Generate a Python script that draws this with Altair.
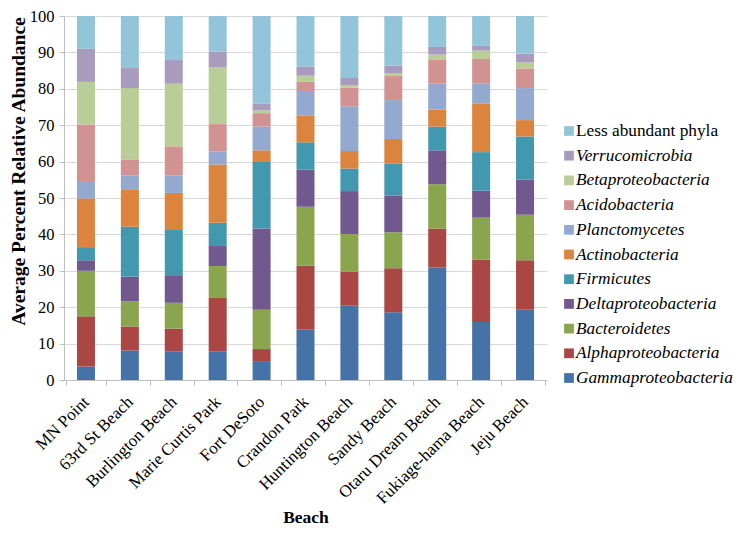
import altair as alt
import pandas as pd

beaches = ["MN Point", "63rd St Beach", "Burlington Beach", "Marie Curtis Park",
           "Fort DeSoto", "Crandon Park", "Huntington Beach", "Sandy Beach",
           "Otaru Dream Beach", "Fukiage-hama Beach", "Jeju Beach"]

# stacking order from bottom to top
phyla = ["Gammaproteobacteria", "Alphaproteobacteria", "Bacteroidetes",
         "Deltaproteobacteria", "Firmicutes", "Actinobacteria", "Planctomycetes",
         "Acidobacteria", "Betaproteobacteria", "Verrucomicrobia", "Less abundant phyla"]

colors = ["#4572A7", "#AA4643", "#89A54E", "#71588F", "#4198AF", "#DB843D",
          "#93A9CF", "#D19392", "#B9CD96", "#A99BBD", "#92C5DA"]

gamma = [3.7, 8.1, 7.9, 7.9, 5.2, 13.9, 20.4, 18.6, 30.9, 15.9, 19.3]
alpha = [13.8, 6.6, 6.2, 14.6, 3.3, 17.5, 9.3, 12.1, 10.7, 17.2, 13.6]
bacteroidetes = [12.5, 6.9, 7.1, 8.8, 10.8, 16.2, 10.4, 9.9, 12.2, 11.5, 12.5]
delta = [2.9, 6.8, 7.6, 5.5, 22.3, 10.2, 11.8, 10.1, 9.3, 7.4, 9.7]
firmicutes = [3.6, 13.7, 12.4, 6.4, 18.3, 7.5, 6.2, 8.7, 6.5, 10.6, 11.8]
actino = [13.4, 10.3, 10.2, 16.0, 3.2, 7.4, 4.8, 6.8, 4.7, 13.4, 4.5]
plancto = [4.8, 3.8, 4.8, 3.6, 6.5, 6.7, 12.3, 10.7, 7.1, 5.4, 8.8]
acido = [15.5, 4.4, 8.0, 7.5, 3.7, 2.5, 5.1, 6.6, 6.5, 6.8, 5.4]
beta = [11.7, 19.6, 17.2, 15.6, 0.8, 1.7, 0.7, 0.8, 1.5, 2.3, 1.7]
verruco = [9.1, 5.5, 6.5, 4.3, 1.9, 2.5, 2.0, 2.1, 2.1, 1.3, 2.4]
less = [9.0, 14.3, 12.1, 9.8, 24.0, 13.9, 17.0, 13.6, 8.5, 8.2, 10.3]

series = [gamma, alpha, bacteroidetes, delta, firmicutes, actino, plancto,
          acido, beta, verruco, less]

rows = []
for k, (name, vals) in enumerate(zip(phyla, series)):
    for b, v in zip(beaches, vals):
        rows.append({"Beach": b, "Phylum": name, "Value": v, "order": k})
df = pd.DataFrame(rows)

legend_domain = phyla[::-1]
legend_range = colors[::-1]
legend_df = pd.DataFrame({"Phylum": legend_domain, "rank": list(range(len(legend_domain)))})

FONT = "Liberation Serif"
color_scale = alt.Scale(domain=legend_domain, range=legend_range)

bars = alt.Chart(df).mark_bar(size=18).encode(
    x=alt.X("Beach:N", sort=beaches, title="Beach",
            axis=alt.Axis(labelAngle=-45, labelAlign="right", labelBaseline="middle",
                          labelFont=FONT, labelFontSize=17,
                          labelColor="#000", titleFont=FONT, titleFontSize=17.5,
                          titleFontWeight="bold", titleColor="#000",
                          tickBand="extent", domainColor="#BFBFBF",
                          tickColor="#BFBFBF", titlePadding=2, labelPadding=14)),
    y=alt.Y("Value:Q", stack="zero", title="Average Percent Relative Abundance",
            scale=alt.Scale(domain=[0, 100], nice=False),
            axis=alt.Axis(values=list(range(0, 101, 10)), labelFont=FONT,
                          labelFontSize=16.5, labelColor="#000", titleFont=FONT,
                          titleFontSize=19.5, titleFontWeight="bold", titleColor="#000",
                          gridColor="#D9D9D9", domainColor="#BFBFBF",
                          tickColor="#BFBFBF", titlePadding=1, labelPadding=5,
                          titleY=155)),
    color=alt.Color("Phylum:N", scale=color_scale, legend=None),
    order=alt.Order("order:Q", sort="ascending"),
)

leg_y = alt.Y("rank:Q", scale=alt.Scale(domain=[0, 10], range=[115, 362]), axis=None)

leg_swatch = alt.Chart(legend_df).mark_square(size=95, opacity=1).encode(
    x=alt.value(505),
    y=leg_y,
    color=alt.Color("Phylum:N", scale=color_scale, legend=None),
)

leg_text_normal = alt.Chart(legend_df).transform_filter(
    alt.datum.Phylum == "Less abundant phyla"
).mark_text(align="left", baseline="middle", font=FONT, fontSize=17.3,
            fontStyle="normal", color="#000").encode(
    x=alt.value(512), y=leg_y, text="Phylum:N")

leg_text_italic = alt.Chart(legend_df).transform_filter(
    alt.datum.Phylum != "Less abundant phyla"
).mark_text(align="left", baseline="middle", font=FONT, fontSize=17.3,
            fontStyle="italic", color="#000").encode(
    x=alt.value(512), y=leg_y, text="Phylum:N")

chart = alt.layer(bars, leg_swatch, leg_text_normal, leg_text_italic).resolve_scale(
    y="independent"
).properties(
    width=483, height=364,
    autosize=alt.AutoSizeParams(type="none"),
    padding={"left": 56, "top": 8, "right": 187, "bottom": 147},
).configure(font=FONT).configure_view(stroke=None)

chart.save("out.html", embed_options={"renderer": "svg", "actions": False})
